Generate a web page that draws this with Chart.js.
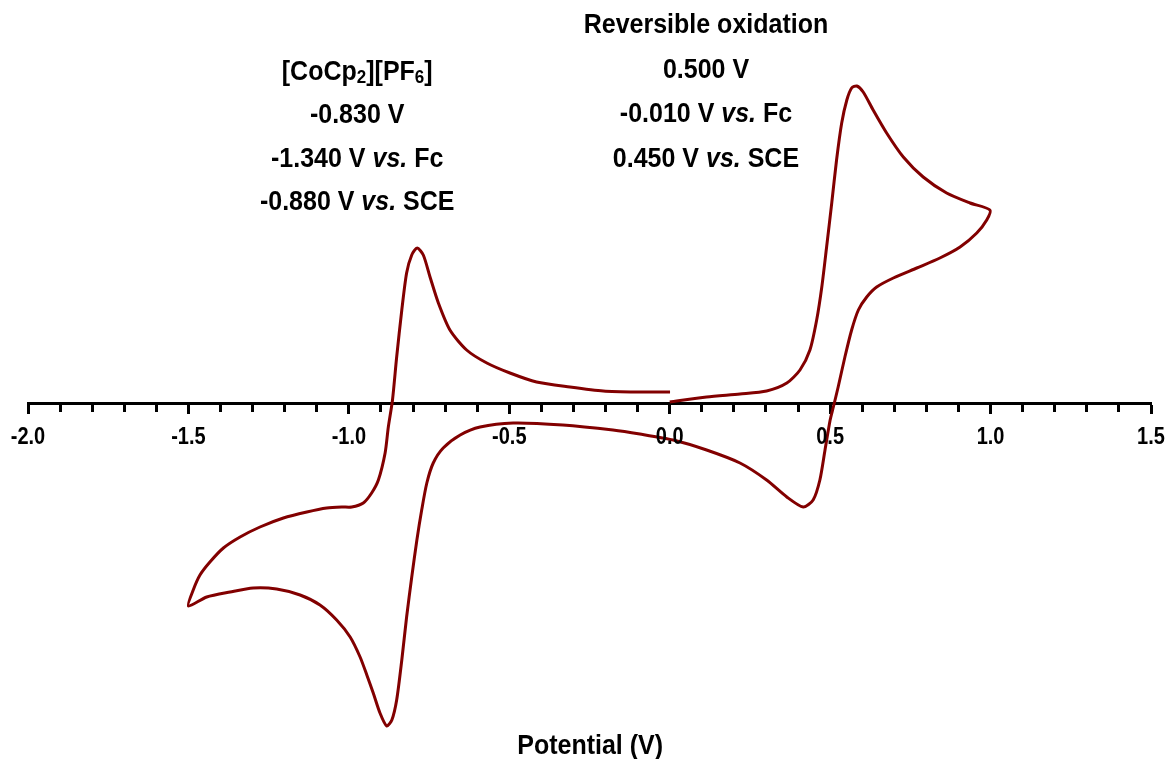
<!DOCTYPE html>
<html>
<head>
<meta charset="utf-8">
<script src="https://cdn.jsdelivr.net/npm/chart.js@4/dist/chart.umd.min.js"></script>
<style>
  html, body { margin: 0; padding: 0; background: #fff; }
  #wrap { width: 1170px; height: 759px; position: relative; }
</style>
</head>
<body>
<div id="wrap"><canvas id="cv"></canvas></div>
<script>
// potential (V) and current (arb. units), in scan order
// 1) forward scan 0.0 -> +1.0 V
const fwdPotential = [0.000, 0.115, 0.219, 0.302, 0.365, 0.406, 0.437, 0.458, 0.474, 0.489, 0.505, 0.520, 0.536, 0.552, 0.567, 0.583, 0.603, 0.634, 0.676, 0.728, 0.790, 0.863, 0.936, 0.998];
const fwdCurrent   = [2, 7, 10, 13, 21, 34, 54, 84, 117, 157, 201, 244, 281, 304, 316, 318, 312, 294, 271, 247, 227, 211, 201, 194];

// 2) reverse scan +1.0 -> -1.5 V
const revPotential = [0.988, 0.957, 0.905, 0.842, 0.770, 0.697, 0.645, 0.614, 0.588, 0.567, 0.546, 0.525, 0.510, 0.500, 0.484, 0.468, 0.447, 0.416, 0.365, 0.302, 0.219, 0.115, 0.011, -0.093, -0.177, -0.333, -0.488, -0.591, -0.653, -0.706, -0.737, -0.757, -0.773, -0.788, -0.804, -0.820, -0.835, -0.851, -0.866, -0.882, -0.903, -0.924, -0.944, -0.965, -0.996, -1.038, -1.090, -1.152, -1.225, -1.298, -1.370, -1.443, -1.500];
const revCurrent   = [184, 171, 157, 146, 136, 126, 117, 107, 94, 74, 47, 17, -3, -16, -46, -76, -96, -103, -93, -76, -59, -46, -36, -30, -26, -21, -19, -23, -31, -44, -59, -79, -106, -136, -173, -213, -256, -296, -316, -322, -309, -289, -271, -253, -233, -216, -201, -191, -185, -184, -188, -193, -202];

// 3) return scan -1.5 -> 0.0 V
const retPotential = [-1.485, -1.464, -1.433, -1.391, -1.339, -1.277, -1.204, -1.131, -1.069, -1.022, -0.991, -0.955, -0.929, -0.908, -0.887, -0.877, -0.864, -0.851, -0.835, -0.820, -0.804, -0.787, -0.768, -0.747, -0.721, -0.685, -0.633, -0.570, -0.498, -0.415, -0.311, -0.207, -0.103, 0.001];
const retCurrent   = [-186, -171, -158, -144, -133, -123, -114, -108, -104, -103, -103, -99, -89, -76, -49, -23, 4, 47, 94, 131, 149, 156, 149, 127, 101, 74, 54, 41, 31, 22, 17, 13, 12, 12];

const xMin = -2.0, xMax = 1.5;
const axisTitle = 'Potential (V)';

// annotation text, runs: b = bold, bi = bold italic, sub = subscript
const leftNote = [
  [['[CoCp', 'b'], ['2', 'sub'], ['][PF', 'b'], ['6', 'sub'], [']', 'b']],
  [['-0.830 V', 'b']],
  [['-1.340 V ', 'b'], ['vs.', 'bi'], [' Fc', 'b']],
  [['-0.880 V ', 'b'], ['vs.', 'bi'], [' SCE', 'b']]
];
const rightNote = [
  [['Reversible oxidation', 'b']],
  [['0.500 V', 'b']],
  [['-0.010 V ', 'b'], ['vs.', 'bi'], [' Fc', 'b']],
  [['0.450 V ', 'b'], ['vs.', 'bi'], [' SCE', 'b']]
];

const FAM = '"Liberation Sans", Arial, Helvetica, sans-serif';
const fonts = { b: 'bold 25px ' + FAM, bi: 'italic bold 25px ' + FAM, sub: 'bold 17px ' + FAM, tick: 'bold 20px ' + FAM };

function toPoints(xs, ys) { return xs.map((x, i) => ({ x: x, y: ys[i] })); }
const cvPoints = toPoints(fwdPotential, fwdCurrent)
  .concat(toPoints(revPotential, revCurrent))
  .concat(toPoints(retPotential, retCurrent));

function drawRuns(ctx, runs, cx, baseY) {
  let total = 0;
  runs.forEach(r => { ctx.font = fonts[r[1]]; total += ctx.measureText(r[0]).width; });
  let x = cx - total / 2;
  runs.forEach(r => {
    ctx.font = fonts[r[1]];
    ctx.fillText(r[0], x, r[1] === 'sub' ? baseY + 3 : baseY);
    x += ctx.measureText(r[0]).width;
  });
}

// text in the source is a little taller than Arial, stretch it vertically
function drawStretched(ctx, runs, cx, baseY, sy) {
  ctx.save();
  ctx.translate(0, baseY);
  ctx.scale(1, sy || 1.12);
  drawRuns(ctx, runs, cx, 0);
  ctx.restore();
}

const notesPlugin = {
  id: 'notes',
  afterDraw(chart) {
    const ctx = chart.ctx;
    const xs = chart.scales.x;
    const major = chart.scales.xMajor;
    const zeroY = chart.scales.y.getPixelForValue(0);
    ctx.save();
    ctx.fillStyle = '#000';
    ctx.textBaseline = 'alphabetic';
    ctx.textAlign = 'left';
    // tick labels under the centred axis
    major.ticks.forEach(t => {
      drawStretched(ctx, [[t.value.toFixed(1), 'tick']], major.getPixelForValue(t.value), zeroY + 40, 1.18);
    });
    const lx = xs.getPixelForValue(-0.974), rx = xs.getPixelForValue(0.113);
    leftNote.forEach((line, i) => drawStretched(ctx, line, lx, 80 + i * 43.3));
    rightNote.forEach((line, i) => drawStretched(ctx, line, rx, 33 + i * 44.7));
    drawStretched(ctx, [[axisTitle, 'b']], xs.getPixelForValue(-0.248), 754);
    ctx.restore();
  }
};

new Chart(document.getElementById('cv'), {
  type: 'scatter',
  data: {
    datasets: [{
      data: cvPoints,
      showLine: true,
      borderColor: '#820000',
      borderWidth: 3,
      pointRadius: 0,
      tension: 0.25,
      fill: false
    }]
  },
  options: {
    responsive: true,
    maintainAspectRatio: false,
    devicePixelRatio: 1,
    animation: false,
    layout: { padding: { left: 28, right: 19, top: 0, bottom: 0 } },
    plugins: { legend: { display: false }, tooltip: { enabled: false } },
    scales: {
      y: { display: false, min: -355, max: 404 },
      x: {
        type: 'linear', min: xMin, max: xMax, position: { y: 0 },
        border: { display: true, color: '#000', width: 3 },
        grid: { drawOnChartArea: false, drawTicks: true, tickLength: 7, tickWidth: 3, tickColor: '#000' },
        ticks: { display: false, stepSize: 0.1 }
      },
      xMajor: {
        type: 'linear', axis: 'x', min: xMin, max: xMax, position: { y: 0 },
        border: { display: true, color: '#000', width: 3 },
        grid: { drawOnChartArea: false, drawTicks: true, tickLength: 9, tickWidth: 3, tickColor: '#000' },
        ticks: { display: false, stepSize: 0.5 }
      }
    }
  },
  plugins: [notesPlugin]
});
</script>
</body>
</html>
